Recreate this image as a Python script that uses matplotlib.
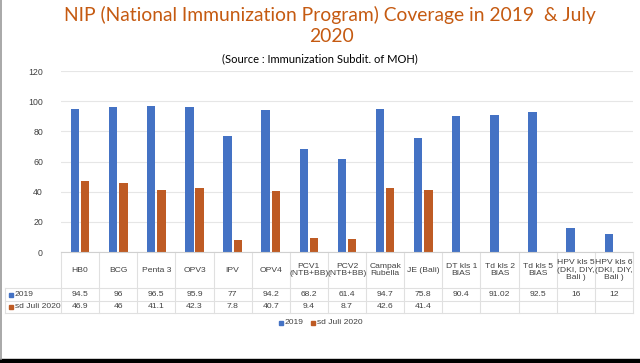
import matplotlib; matplotlib.use('Agg')
import matplotlib.pyplot as plt
import matplotlib.transforms as mtrans
from matplotlib.patches import Rectangle
from matplotlib.lines import Line2D

categories = ['HB0', 'BCG', 'Penta 3', 'OPV3', 'IPV', 'OPV4', 'PCV1\n(NTB+BB)', 'PCV2\n(NTB+BB)',
              'Campak\nRubella', 'JE (Bali)', 'DT kls 1\nBIAS', 'Td kls 2\nBIAS', 'Td kls 5\nBIAS',
              'HPV kls 5\n(DKI, DIY,\nBali )', 'HPV kls 6\n(DKI, DIY,\nBali )']
v2019 = [94.5, 96, 96.5, 95.9, 77, 94.2, 68.2, 61.4, 94.7, 75.8, 90.4, 91.02, 92.5, 16, 12]
v2020 = [46.9, 46, 41.1, 42.3, 7.8, 40.7, 9.4, 8.7, 42.6, 41.4, None, None, None, None, None]
lbl2019 = ['94.5', '96', '96.5', '95.9', '77', '94.2', '68.2', '61.4', '94.7', '75.8', '90.4', '91.02', '92.5', '16', '12']
lbl2020 = ['46.9', '46', '41.1', '42.3', '7.8', '40.7', '9.4', '8.7', '42.6', '41.4', '', '', '', '', '']
series = ['2019', 'sd Juli 2020']

BLUE = '#4472C4'; ORG = '#BE5B24'; TITLE = '#C55A11'; TXT = '#404040'; GRID = '#E6E6E6'
TF = ['Liberation Sans', 'DejaVu Sans']

W, H = 640, 363
fig = plt.figure(figsize=(6.4, 3.63), dpi=100)
fig.patch.set_facecolor('white')
# slide frame
fig.add_artist(Rectangle((0, 0), 1, 4/H, transform=fig.transFigure, color='black'))
fig.add_artist(Line2D([0.8/W, 0.8/W], [4/H, 1], transform=fig.transFigure, color='#9A9A9A', lw=1.2))

fig.text(330/W, 1-15/H, 'NIP (National Immunization Program) Coverage in 2019  & July',
         ha='center', va='center', fontsize=13.9, color=TITLE, family='Lato')
fig.text(331/W, 1-37/H, '2020', ha='center', va='center', fontsize=13.9, color=TITLE, family='Lato')
fig.text(320/W, 1-59/H, '(Source : Immunization Subdit. of MOH)', ha='center', va='center',
         fontsize=8, color='black', family='Lato')

n = len(categories)
x0, x1, yb, yt = 61, 633, 252, 71
ax = fig.add_axes([x0/W, 1-yb/H, (x1-x0)/W, (yb-yt)/H])
xs = list(range(n))
bw = 0.22
ax.bar([x - 0.135 for x in xs], v2019, bw, color=BLUE, zorder=3)
ax.bar([x + 0.135 for x in xs], [v if v is not None else 0 for v in v2020], bw, color=ORG, zorder=3)
ax.set_xlim(-0.5, n - 0.5)
ax.set_ylim(0, 120)
ax.set_yticks(range(0, 121, 20))
ax.yaxis.grid(True, color=GRID, lw=0.8, zorder=0)
for s in ['top', 'right', 'left', 'bottom']:
    ax.spines[s].set_visible(False)
ax.set_xticks([])
ax.tick_params(axis='y', length=0, labelsize=6.3, labelcolor=TXT, pad=13)
for t in ax.get_yticklabels():
    t.set_family(TF)

# data table under the axis
tr = mtrans.blended_transform_factory(ax.transData, fig.transFigure)
fy = lambda py: 1 - py/H
rows = [252, 288, 300.5, 313]
LC = '#E0E0E0'
for i in range(n + 1):
    ax.add_line(Line2D([i - 0.5, i - 0.5], [fy(rows[0]), fy(rows[3])], transform=tr,
                       color=LC, lw=0.8, clip_on=False))
for r in rows[1:]:
    fig.add_artist(Line2D([5/W, x1/W], [fy(r), fy(r)], color=LC, lw=0.8))
fig.add_artist(Line2D([x0/W, x1/W], [fy(rows[0]), fy(rows[0])], color='#D0D0D0', lw=0.8))
fig.add_artist(Line2D([5/W, 5/W], [fy(rows[1]), fy(rows[3])], color=LC, lw=0.8))
tk = dict(ha='center', va='center', fontsize=6.1, color=TXT, family=TF, linespacing=1.1)
for i, c in enumerate(categories):
    ax.text(i, fy(270), c, transform=tr, **tk)
    ax.text(i, fy(294.5), lbl2019[i], transform=tr, **tk)
    ax.text(i, fy(307), lbl2020[i], transform=tr, **tk)
for (py, col, lab) in [(294.5, BLUE, series[0]), (307, ORG, series[1])]:
    fig.add_artist(Rectangle((9/W, fy(py) - 2/H), 4/W, 4/H, color=col))
    fig.text(15/W, fy(py), lab, ha='left', va='center', fontsize=6.1, color=TXT, family=TF)

# legend
for (px, col, lab) in [(279, BLUE, series[0]), (311, ORG, series[1])]:
    fig.add_artist(Rectangle((px/W, fy(323) - 2/H), 4/W, 4/H, color=col))
    fig.text((px + 6)/W, fy(323), lab, ha='left', va='center', fontsize=6.1, color=TXT, family=TF)

fig.savefig('out.png', dpi=100, facecolor='white')
